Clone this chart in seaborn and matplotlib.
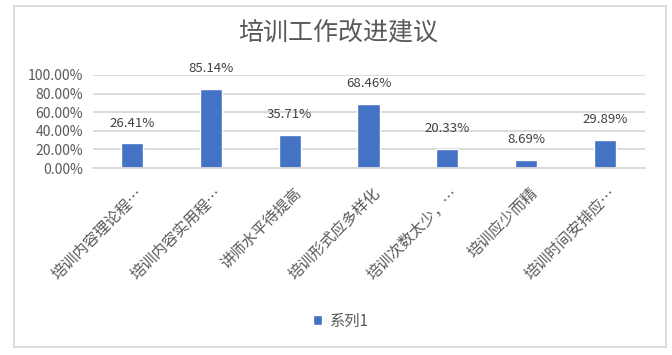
import matplotlib
matplotlib.use("Agg")
import matplotlib.pyplot as plt
import matplotlib.transforms as mtransforms
import seaborn as sns
import pandas as pd
from matplotlib.patches import Rectangle
from matplotlib.ticker import FuncFormatter

categories = ["培训内容理论程…", "培训内容实用程…", "讲师水平待提高", "培训形式应多样化",
              "培训次数太少，…", "培训应少而精", "培训时间安排应…"]
values = [0.2641, 0.8514, 0.3571, 0.6846, 0.2033, 0.0869, 0.2989]
value_labels = ["26.41%", "85.14%", "35.71%", "68.46%", "20.33%", "8.69%", "29.89%"]
yticks = [0.0, 0.2, 0.4, 0.6, 0.8, 1.0]
series_name = "系列1"
title = "培训工作改进建议"

sns.set_theme(style="white")
plt.rcParams['font.family'] = ['Noto Sans CJK SC', 'DejaVu Sans']

df = pd.DataFrame({"cat": categories, "val": values, "series": series_name})

fig = plt.figure(figsize=(6.72, 3.55), dpi=100)
ax = fig.add_axes([92.5/672, 1-168/355, 552/672, 93/355])

sns.barplot(data=df, x="cat", y="val", hue="series", palette=["#4472C4"],
            width=0.28, ax=ax, legend=True, saturation=1)

ax.set_ylim(0, 1.0)
ax.set_yticks(yticks)
ax.yaxis.set_major_formatter(FuncFormatter(lambda v, p: f"{v*100:.2f}%"))
ax.grid(axis="y", color="#D9D9D9", linewidth=1.3)
ax.set_axisbelow(True)
for s in ["top", "right", "left"]:
    ax.spines[s].set_visible(False)
ax.spines["bottom"].set_color("#D9D9D9")
ax.spines["bottom"].set_linewidth(1.3)
ax.set_xlabel("")
ax.set_ylabel("")
ax.tick_params(axis="y", colors="#595959", labelsize=10, length=0, pad=7)
ax.tick_params(axis="x", colors="#595959", labelsize=11, length=0, pad=12)
offset = mtransforms.ScaledTranslation(3/100, 0, fig.dpi_scale_trans)
for lab in ax.get_xticklabels():
    lab.set_rotation(45)
    lab.set_ha("right")
    lab.set_va("top")
    lab.set_rotation_mode("anchor")
    lab.set_transform(lab.get_transform() + offset)

for i, (v, lab) in enumerate(zip(values, value_labels)):
    ax.annotate(lab, (i, v), xytext=(0, 10), textcoords="offset points",
                ha="center", va="bottom", fontsize=9.5, color="#404040")

fig.text(338/672, 1-33/355, title, ha="center", va="center", fontsize=18, color="#595959")

leg = ax.get_legend()
leg.remove()
handles, labels = ax.get_legend_handles_labels()
fig.legend(handles, labels, loc="center", bbox_to_anchor=(341/672, 1-321/355),
           frameon=False, fontsize=11, handlelength=0.55, handleheight=0.55,
           handletextpad=0.5, labelcolor="#595959")

border = Rectangle((14/672, 1-347/355), 652/672, 341/355, transform=fig.transFigure,
                   fill=False, edgecolor="#D9D9D9", linewidth=1.3)
fig.patches.append(border)

fig.savefig("out.png", dpi=100)
